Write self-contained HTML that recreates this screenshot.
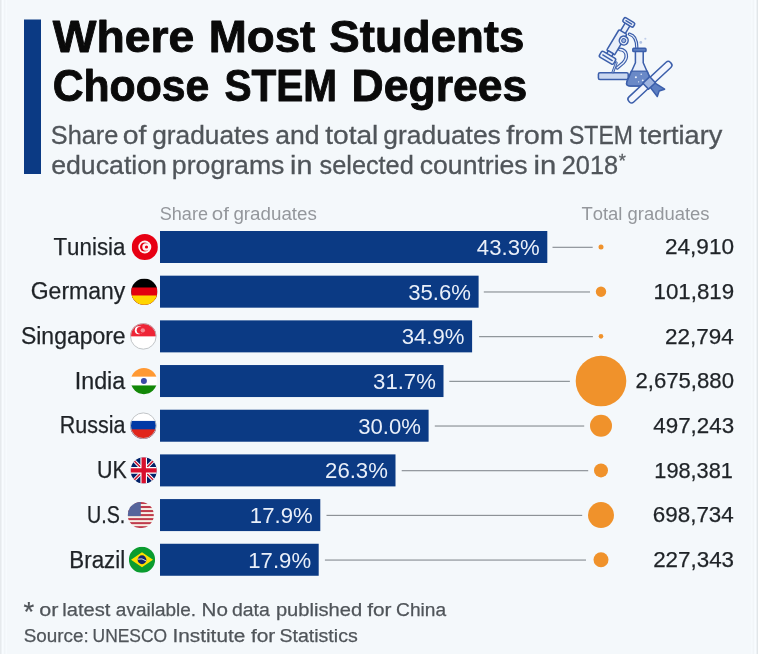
<!DOCTYPE html>
<html lang="en">
<head>
<meta charset="utf-8">
<title>Where Most Students Choose STEM Degrees</title>
<style>
html,body{margin:0;padding:0;background:#f4f8fb;}
body{width:758px;height:654px;overflow:hidden;}
svg{display:block;font-family:"Liberation Sans",sans-serif;font-kerning:none;}
</style>
</head>
<body>
<svg width="758" height="654" viewBox="0 0 758 654">
<rect x="0" y="0" width="758" height="654" fill="#f4f8fb"/>
<rect x="0" y="0" width="1" height="654" fill="#e6eaed"/>
<rect x="1" y="0" width="1" height="654" fill="#eef2f5"/>
<rect x="2" y="0" width="1" height="654" fill="#f8fcff"/>
<rect x="3" y="0" width="1" height="654" fill="#f6fafd"/>
<rect x="4" y="0" width="1" height="654" fill="#f1f5f8"/>
<rect x="5" y="0" width="1" height="654" fill="#f4f8fb"/>
<rect x="6" y="0" width="1" height="654" fill="#f7fbfe"/>
<rect x="757" y="0" width="1" height="654" fill="#e1e6e9"/>
<rect x="756" y="0" width="1" height="654" fill="#eef2f5"/>
<rect x="755" y="0" width="1" height="654" fill="#f8fcff"/>
<rect x="754" y="0" width="1" height="654" fill="#f6fafd"/>
<rect x="753" y="0" width="1" height="654" fill="#f1f5f8"/>
<rect x="752" y="0" width="1" height="654" fill="#f4f8fb"/>
<rect x="751" y="0" width="1" height="654" fill="#f6fafd"/>
<rect x="24" y="19.5" width="17" height="154.5" fill="#0b3a84"/>
<g id="title">
<text x="52.75" y="51.5" font-size="44.0" fill="#0a0a0a" font-weight="bold" textLength="141.43" lengthAdjust="spacingAndGlyphs" stroke="#0a0a0a" stroke-width="0.9" stroke-linejoin="round">Where</text>
<text x="208.74" y="51.5" font-size="44.0" fill="#0a0a0a" font-weight="bold" textLength="106.61" lengthAdjust="spacingAndGlyphs" stroke="#0a0a0a" stroke-width="0.9" stroke-linejoin="round">Most</text>
<text x="329.39" y="51.5" font-size="44.0" fill="#0a0a0a" font-weight="bold" textLength="194.98" lengthAdjust="spacingAndGlyphs" stroke="#0a0a0a" stroke-width="0.9" stroke-linejoin="round">Students</text>
<text x="52.65" y="100.9" font-size="44.0" fill="#0a0a0a" font-weight="bold" textLength="156.61" lengthAdjust="spacingAndGlyphs" stroke="#0a0a0a" stroke-width="0.9" stroke-linejoin="round">Choose</text>
<text x="224.43" y="100.9" font-size="44.0" fill="#0a0a0a" font-weight="bold" textLength="112.68" lengthAdjust="spacingAndGlyphs" stroke="#0a0a0a" stroke-width="0.9" stroke-linejoin="round">STEM</text>
<text x="351.62" y="100.9" font-size="44.0" fill="#0a0a0a" font-weight="bold" textLength="175.6" lengthAdjust="spacingAndGlyphs" stroke="#0a0a0a" stroke-width="0.9" stroke-linejoin="round">Degrees</text>
</g>
<g id="subtitle" stroke="#50555a" stroke-width="0.3">
<text x="50.85" y="144.0" font-size="25.7" fill="#50555a" textLength="67.47" lengthAdjust="spacingAndGlyphs">Share</text>
<text x="122.81" y="144.0" font-size="25.7" fill="#50555a" textLength="23.65" lengthAdjust="spacingAndGlyphs">of</text>
<text x="152.2" y="144.0" font-size="25.7" fill="#50555a" textLength="116.95" lengthAdjust="spacingAndGlyphs">graduates</text>
<text x="275.37" y="144.0" font-size="25.7" fill="#50555a" textLength="44.24" lengthAdjust="spacingAndGlyphs">and</text>
<text x="325.17" y="144.0" font-size="25.7" fill="#50555a" textLength="53.21" lengthAdjust="spacingAndGlyphs">total</text>
<text x="383.39" y="144.0" font-size="25.7" fill="#50555a" textLength="117.46" lengthAdjust="spacingAndGlyphs">graduates</text>
<text x="506.19" y="144.0" font-size="25.7" fill="#50555a" textLength="57.71" lengthAdjust="spacingAndGlyphs">from</text>
<text x="569.06" y="144.0" font-size="25.7" fill="#50555a" textLength="63.83" lengthAdjust="spacingAndGlyphs">STEM</text>
<text x="639.39" y="144.0" font-size="25.7" fill="#50555a" textLength="82.96" lengthAdjust="spacingAndGlyphs">tertiary</text>
<text x="51.17" y="174.0" font-size="25.7" fill="#50555a" textLength="115.77" lengthAdjust="spacingAndGlyphs">education</text>
<text x="171.88" y="174.0" font-size="25.7" fill="#50555a" textLength="112.58" lengthAdjust="spacingAndGlyphs">programs</text>
<text x="290.09" y="174.0" font-size="25.7" fill="#50555a" textLength="22.27" lengthAdjust="spacingAndGlyphs">in</text>
<text x="319.6" y="174.0" font-size="25.7" fill="#50555a" textLength="94.13" lengthAdjust="spacingAndGlyphs">selected</text>
<text x="419.77" y="174.0" font-size="25.7" fill="#50555a" textLength="107.89" lengthAdjust="spacingAndGlyphs">countries</text>
<text x="533.54" y="174.0" font-size="25.7" fill="#50555a" textLength="22.75" lengthAdjust="spacingAndGlyphs">in</text>
<text x="561.73" y="174.0" font-size="25.7" fill="#50555a" textLength="56.38" lengthAdjust="spacingAndGlyphs">2018</text>
<text x="618.71" y="166.5" font-size="17.8" fill="#5d6266" textLength="7.08" lengthAdjust="spacingAndGlyphs">*</text>
</g>
<text x="159.78" y="219.5" font-size="18.7" fill="#94979c" textLength="48.22" lengthAdjust="spacingAndGlyphs">Share</text>
<text x="211.84" y="219.5" font-size="18.7" fill="#94979c" textLength="17.13" lengthAdjust="spacingAndGlyphs">of</text>
<text x="233.41" y="219.5" font-size="18.7" fill="#94979c" textLength="83.47" lengthAdjust="spacingAndGlyphs">graduates</text>
<text x="581.39" y="219.6" font-size="18.7" fill="#94979c" textLength="128.18" lengthAdjust="spacingAndGlyphs">Total graduates</text>
<g id="row0">
<text x="53.5" y="254.75" font-size="23.3" fill="#1f2327" textLength="71.9" lengthAdjust="spacingAndGlyphs" stroke="#1f2327" stroke-width="0.25">Tunisia</text>
<rect x="160" y="231.00" width="387.3" height="32" fill="#0b3a84"/>
<text x="476.89" y="254.85" font-size="21.2" fill="#e9eff9" textLength="62.8" lengthAdjust="spacingAndGlyphs">43.3%</text>
<clipPath id="fc0"><circle cx="144.8" cy="247.0" r="13.1"/></clipPath><g clip-path="url(#fc0)"><rect x="131.70000000000002" y="233.9" width="26.2" height="26.2" fill="#e70013"/><circle cx="144.8" cy="247.0" r="6.5" fill="#fdf3f3"/><circle cx="144.60000000000002" cy="247.0" r="4.6" fill="#e70013"/><circle cx="146.0" cy="247.0" r="3.7" fill="#fdf3f3"/><circle cx="146.5" cy="247.0" r="1.6" fill="#e70013"/></g>
<rect x="552.5"  y="246.75" width="40.2" height="1.1" fill="#858b90"/>
<circle cx="601" cy="247.00" r="2.5" fill="#f0922b"/>
<text x="664.97" y="254.35" font-size="21.5" fill="#1f2327" textLength="69.02" lengthAdjust="spacingAndGlyphs" stroke="#1f2327" stroke-width="0.25">24,910</text>
</g>
<g id="row1">
<text x="30.74" y="299.43" font-size="23.3" fill="#1f2327" textLength="94.5" lengthAdjust="spacingAndGlyphs" stroke="#1f2327" stroke-width="0.25">Germany</text>
<rect x="160" y="275.68" width="318.6" height="32" fill="#0b3a84"/>
<text x="408.19" y="299.53" font-size="21.2" fill="#e9eff9" textLength="62.8" lengthAdjust="spacingAndGlyphs">35.6%</text>
<clipPath id="fc1"><circle cx="144.3" cy="291.68" r="13.1"/></clipPath><g clip-path="url(#fc1)"><rect x="131.20000000000002" y="278.58" width="26.2" height="26.2" fill="#000"/><rect x="131.20000000000002" y="287.48" width="26.2" height="26.2" fill="#e3000f"/><rect x="131.20000000000002" y="295.48" width="26.2" height="26.2" fill="#ffd500"/></g>
<rect x="483.8"  y="291.43" width="106.2" height="1.1" fill="#858b90"/>
<circle cx="601" cy="291.68" r="5.2" fill="#f0922b"/>
<text x="653.5" y="299.03" font-size="21.5" fill="#1f2327" textLength="80.66" lengthAdjust="spacingAndGlyphs" stroke="#1f2327" stroke-width="0.25">101,819</text>
</g>
<g id="row2">
<text x="20.96" y="344.11" font-size="23.3" fill="#1f2327" textLength="104.66" lengthAdjust="spacingAndGlyphs" stroke="#1f2327" stroke-width="0.25">Singapore</text>
<rect x="160" y="320.36" width="312.1" height="32" fill="#0b3a84"/>
<text x="401.69" y="344.21" font-size="21.2" fill="#e9eff9" textLength="62.8" lengthAdjust="spacingAndGlyphs">34.9%</text>
<clipPath id="fc2"><circle cx="143.3" cy="336.36" r="13.1"/></clipPath><g clip-path="url(#fc2)"><rect x="130.20000000000002" y="323.26" width="26.2" height="26.2" fill="#fff"/><rect x="130.20000000000002" y="323.26" width="26.2" height="13.1" fill="#ee2536"/><circle cx="138.8" cy="330.36" r="4" fill="#fff"/><circle cx="140.3" cy="330.36" r="3.6" fill="#ee2536"/><circle cx="142.8" cy="330.36" r="2.2" fill="#f58a93"/></g><circle cx="143.3" cy="336.36" r="12.799999999999999" fill="none" stroke="#b9bdc1" stroke-width="0.9"/>
<rect x="479.1"  y="336.11" width="113.8" height="1.1" fill="#858b90"/>
<circle cx="601" cy="336.36" r="2.3" fill="#f0922b"/>
<text x="665.07" y="343.71" font-size="21.5" fill="#1f2327" textLength="68.69" lengthAdjust="spacingAndGlyphs" stroke="#1f2327" stroke-width="0.25">22,794</text>
</g>
<g id="row3">
<text x="74.75" y="388.79" font-size="23.3" fill="#1f2327" textLength="50.45" lengthAdjust="spacingAndGlyphs" stroke="#1f2327" stroke-width="0.25">India</text>
<rect x="160" y="365.04" width="283.5" height="32" fill="#0b3a84"/>
<text x="373.09" y="388.89" font-size="21.2" fill="#e9eff9" textLength="62.8" lengthAdjust="spacingAndGlyphs">31.7%</text>
<clipPath id="fc3"><circle cx="143.9" cy="381.04" r="13.1"/></clipPath><g clip-path="url(#fc3)"><rect x="130.8" y="367.94" width="26.2" height="26.2" fill="#fff"/><rect x="130.8" y="367.94" width="26.2" height="8.7" fill="#ff9933"/><rect x="130.8" y="385.44" width="26.2" height="13.1" fill="#138808"/><circle cx="143.9" cy="381.04" r="3.0" fill="#3a4aa6"/></g>
<rect x="449.3"  y="380.79" width="120.6" height="1.1" fill="#858b90"/>
<circle cx="601" cy="381.04" r="25.3" fill="#f0922b"/>
<text x="635.49" y="388.39" font-size="21.5" fill="#1f2327" textLength="98.48" lengthAdjust="spacingAndGlyphs" stroke="#1f2327" stroke-width="0.25">2,675,880</text>
</g>
<g id="row4">
<text x="59.84" y="433.47" font-size="23.3" fill="#1f2327" textLength="65.66" lengthAdjust="spacingAndGlyphs" stroke="#1f2327" stroke-width="0.25">Russia</text>
<rect x="160" y="409.72" width="268.6" height="32" fill="#0b3a84"/>
<text x="358.19" y="433.57" font-size="21.2" fill="#e9eff9" textLength="62.8" lengthAdjust="spacingAndGlyphs">30.0%</text>
<clipPath id="fc4"><circle cx="143.3" cy="425.72" r="13.1"/></clipPath><g clip-path="url(#fc4)"><rect x="130.20000000000002" y="412.62" width="26.2" height="26.2" fill="#fff"/><rect x="130.20000000000002" y="420.92" width="26.2" height="26.2" fill="#0039a6"/><rect x="130.20000000000002" y="429.32000000000005" width="26.2" height="26.2" fill="#e1251b"/></g><circle cx="143.3" cy="425.72" r="12.799999999999999" fill="none" stroke="#b9bdc1" stroke-width="0.9"/>
<rect x="434.8"  y="425.47" width="149.4" height="1.1" fill="#858b90"/>
<circle cx="601" cy="425.72" r="11.0" fill="#f0922b"/>
<text x="653.29" y="433.07" font-size="21.5" fill="#1f2327" textLength="80.8" lengthAdjust="spacingAndGlyphs" stroke="#1f2327" stroke-width="0.25">497,243</text>
</g>
<g id="row5">
<text x="96.95" y="478.15" font-size="23.3" fill="#1f2327" textLength="29.8" lengthAdjust="spacingAndGlyphs" stroke="#1f2327" stroke-width="0.25">UK</text>
<rect x="160" y="454.40" width="235.5" height="32" fill="#0b3a84"/>
<text x="325.09" y="478.25" font-size="21.2" fill="#e9eff9" textLength="62.8" lengthAdjust="spacingAndGlyphs">26.3%</text>
<clipPath id="fc5"><circle cx="143.7" cy="470.4" r="13.1"/></clipPath><g clip-path="url(#fc5)"><rect x="130.6" y="457.29999999999995" width="26.2" height="26.2" fill="#012169"/><path d="M130.6,457.29999999999995 L156.79999999999998,483.49999999999994 M156.79999999999998,457.29999999999995 L130.6,483.49999999999994" stroke="#fff" stroke-width="3.4"/><path d="M130.6,457.29999999999995 L156.79999999999998,483.49999999999994 M156.79999999999998,457.29999999999995 L130.6,483.49999999999994" stroke="#c8102e" stroke-width="1.5"/><path d="M143.7,457.29999999999995 V483.49999999999994 M130.6,470.4 H156.79999999999998" stroke="#fff" stroke-width="6.6"/><path d="M143.7,457.29999999999995 V483.49999999999994 M130.6,470.4 H156.79999999999998" stroke="#d8102e" stroke-width="4.4"/></g>
<rect x="401.7"  y="470.15" width="186.5" height="1.1" fill="#858b90"/>
<circle cx="601" cy="470.40" r="7.0" fill="#f0922b"/>
<text x="654.35" y="477.75" font-size="21.5" fill="#1f2327" textLength="78.52" lengthAdjust="spacingAndGlyphs" stroke="#1f2327" stroke-width="0.25">198,381</text>
</g>
<g id="row6">
<text x="86.98" y="522.83" font-size="23.3" fill="#1f2327" textLength="38.32" lengthAdjust="spacingAndGlyphs" stroke="#1f2327" stroke-width="0.25">U.S.</text>
<rect x="160" y="499.08" width="160.3" height="32" fill="#0b3a84"/>
<text x="249.89" y="522.93" font-size="21.2" fill="#e9eff9" textLength="62.8" lengthAdjust="spacingAndGlyphs">17.9%</text>
<clipPath id="fc6"><circle cx="140.8" cy="515.08" r="13.1"/></clipPath><g clip-path="url(#fc6)"><rect x="127.70000000000002" y="501.98" width="26.2" height="26.2" fill="#f6efe6"/><rect x="127.70000000000002" y="501.98" width="26.2" height="2.02" fill="#bf3b4c"/><rect x="127.70000000000002" y="506.01" width="26.2" height="2.02" fill="#bf3b4c"/><rect x="127.70000000000002" y="510.04" width="26.2" height="2.02" fill="#bf3b4c"/><rect x="127.70000000000002" y="514.07" width="26.2" height="2.02" fill="#bf3b4c"/><rect x="127.70000000000002" y="518.10" width="26.2" height="2.02" fill="#bf3b4c"/><rect x="127.70000000000002" y="522.13" width="26.2" height="2.02" fill="#bf3b4c"/><rect x="127.70000000000002" y="526.16" width="26.2" height="2.02" fill="#bf3b4c"/><rect x="127.70000000000002" y="501.98" width="13.1" height="14.11" fill="#56659b"/></g>
<rect x="326.5"  y="514.83" width="255.7" height="1.1" fill="#858b90"/>
<circle cx="601" cy="515.08" r="13.0" fill="#f0922b"/>
<text x="652.86" y="522.43" font-size="21.5" fill="#1f2327" textLength="80.89" lengthAdjust="spacingAndGlyphs" stroke="#1f2327" stroke-width="0.25">698,734</text>
</g>
<g id="row7">
<text x="69.37" y="567.51" font-size="23.3" fill="#1f2327" textLength="55.82" lengthAdjust="spacingAndGlyphs" stroke="#1f2327" stroke-width="0.25">Brazil</text>
<rect x="160" y="543.76" width="158.7" height="32" fill="#0b3a84"/>
<text x="248.29" y="567.61" font-size="21.2" fill="#e9eff9" textLength="62.8" lengthAdjust="spacingAndGlyphs">17.9%</text>
<clipPath id="fc7"><circle cx="142.0" cy="559.76" r="13.1"/></clipPath><g clip-path="url(#fc7)"><rect x="128.9" y="546.66" width="26.2" height="26.2" fill="#0a9c2f"/><path d="M131.0,559.76 L142.0,552.26 L153.0,559.76 L142.0,567.26Z" fill="#fedf00"/><circle cx="142.0" cy="559.76" r="4.4" fill="#16256b"/><path d="M137.8,559.16 Q142.0,557.76 146.2,560.96" stroke="#e8eef5" stroke-width="0.9" fill="none"/></g>
<rect x="324.9"  y="559.51" width="261.1" height="1.1" fill="#858b90"/>
<circle cx="601" cy="559.76" r="7.5" fill="#f0922b"/>
<text x="653.17" y="567.11" font-size="21.5" fill="#1f2327" textLength="80.91" lengthAdjust="spacingAndGlyphs" stroke="#1f2327" stroke-width="0.25">227,343</text>
</g>
<g id="footer" stroke="#50555a" stroke-width="0.25">
<text x="23.56" y="620.6" font-size="27" fill="#50555a" textLength="10.67" lengthAdjust="spacingAndGlyphs">*</text>
<text x="39.2" y="615.8" font-size="18.8" fill="#50555a" textLength="19.16" lengthAdjust="spacingAndGlyphs">or</text>
<text x="62.34" y="615.8" font-size="18.8" fill="#50555a" textLength="48.1" lengthAdjust="spacingAndGlyphs">latest</text>
<text x="115.89" y="615.8" font-size="18.8" fill="#50555a" textLength="80.14" lengthAdjust="spacingAndGlyphs">available.</text>
<text x="201.61" y="615.8" font-size="18.8" fill="#50555a" textLength="26.36" lengthAdjust="spacingAndGlyphs">No</text>
<text x="231.98" y="615.8" font-size="18.8" fill="#50555a" textLength="37.82" lengthAdjust="spacingAndGlyphs">data</text>
<text x="275.9" y="615.8" font-size="18.8" fill="#50555a" textLength="86.2" lengthAdjust="spacingAndGlyphs">published</text>
<text x="367.2" y="615.8" font-size="18.8" fill="#50555a" textLength="24.34" lengthAdjust="spacingAndGlyphs">for</text>
<text x="396.13" y="615.8" font-size="18.8" fill="#50555a" textLength="49.97" lengthAdjust="spacingAndGlyphs">China</text>
<text x="23.74" y="642.2" font-size="18.8" fill="#50555a" textLength="65.08" lengthAdjust="spacingAndGlyphs">Source:</text>
<text x="92.56" y="642.2" font-size="18.8" fill="#50555a" textLength="74.58" lengthAdjust="spacingAndGlyphs">UNESCO</text>
<text x="172.48" y="642.2" font-size="18.8" fill="#50555a" textLength="72.84" lengthAdjust="spacingAndGlyphs">Institute</text>
<text x="250.9" y="642.2" font-size="18.8" fill="#50555a" textLength="24.44" lengthAdjust="spacingAndGlyphs">for</text>
<text x="279.41" y="642.2" font-size="18.8" fill="#50555a" textLength="78.3" lengthAdjust="spacingAndGlyphs">Statistics</text>
</g>
<g id="icon" transform="translate(590,10) scale(0.15291)" fill="#e9effa" stroke="#3c5fab" stroke-width="10" stroke-linejoin="round" stroke-linecap="round">
<rect x="55" y="410" width="195" height="45" rx="10" fill="#cbd8f0"/>
<path d="M150,405 L172,345" stroke-width="18"/>
<path d="M150,405 L172,345" stroke="#e9effa" stroke-width="5"/>
<path d="M195,258 C243,262 250,312 216,346 L178,378" fill="none" stroke-width="24"/>
<path d="M195,258 C243,262 250,312 216,346 L178,378" fill="none" stroke="#e9effa" stroke-width="9"/>
<path d="M258,158 C292,166 306,196 306,246" fill="none" stroke-width="22"/>
<path d="M258,158 C292,166 306,196 306,246" fill="none" stroke="#e9effa" stroke-width="7"/>
<g transform="translate(183.5,197.5) rotate(31)">
<rect x="-18" y="-122" width="36" height="64"/>
<rect x="-30" y="-62" width="60" height="156" rx="6"/>
<rect x="-19" y="92" width="38" height="24"/>
<rect x="-54" y="112" width="108" height="44" rx="12"/>
<rect x="-40" y="129" width="80" height="10" rx="4" fill="#3c5fab" stroke="none"/>
<rect x="-40" y="-152" width="80" height="32" rx="10"/>
<rect x="-26" y="-140" width="52" height="8" rx="4" fill="#3c5fab" stroke="none"/>
<circle cx="33" cy="-17" r="29"/>
<circle cx="33" cy="-17" r="13" fill="#9fb4df" stroke-width="6"/>
</g>
<circle cx="332" cy="212" r="9" fill="#9fb4df" stroke="none" opacity="0.8"/>
<circle cx="362" cy="188" r="7" fill="#9fb4df" stroke="none" opacity="0.6"/>
<path d="M297,268 L297,345 L242,468 Q232,497 262,497 L382,497 Q412,497 402,468 L348,345 L348,268 Z"/>
<path d="M270,400 L374,400 L402,468 Q412,497 382,497 L262,497 Q232,497 242,468 Z" fill="#5d7fc2" opacity="0.9"/>
<circle cx="300" cy="440" r="7" fill="#e9effa" stroke="none"/><circle cx="335" cy="420" r="5" fill="#e9effa" stroke="none"/><circle cx="345" cy="460" r="6" fill="#e9effa" stroke="none"/><circle cx="318" cy="470" r="4" fill="#e9effa" stroke="none"/>
<rect x="280" y="250" width="86" height="22" rx="6" fill="#5d7fc2"/>
<path d="M415,472 L488,518 L452,530 L440,566 L388,498 Z" fill="#5d7fc2"/>
<g transform="translate(392,472) rotate(-43)">
<rect x="-186" y="-23" width="372" height="46" rx="20" fill="#f3f6fd"/>
<rect x="-38" y="-27" width="62" height="54" fill="#9fb4df"/>
</g>
</g>
</svg>
</body>
</html>
